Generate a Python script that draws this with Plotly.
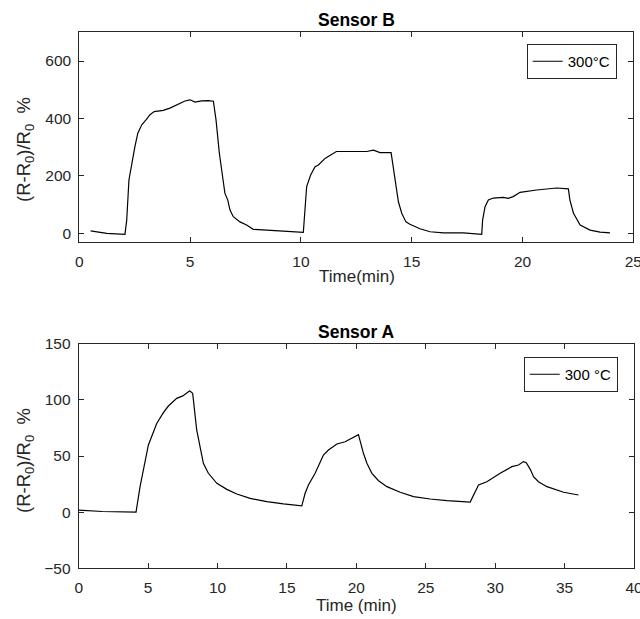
import plotly.graph_objects as go

# ---- Sensor B (top) ----
time_b = [0.51, 1.24, 2.06, 2.14, 2.24, 2.36, 2.51, 2.64, 2.82, 3.01, 3.19, 3.38, 3.79, 4.09,
          4.47, 4.77, 5.0, 5.22, 5.52, 5.82, 6.05, 6.17, 6.32, 6.47, 6.57, 6.7, 6.8, 6.95,
          7.25, 7.55, 7.85, 8.46, 9.06, 9.66, 10.04, 10.11, 10.26, 10.44, 10.64, 10.79,
          11.09, 11.3, 11.6, 12.26, 12.97, 13.27, 13.57, 14.07, 14.17, 14.29, 14.4, 14.55,
          14.74, 14.92, 15.37, 15.83, 16.43, 17.33, 17.86, 18.16, 18.2, 18.31, 18.46, 18.68,
          19.13, 19.36, 19.58, 19.89, 20.64, 21.54, 22.07, 22.14, 22.3, 22.41, 22.6, 23.05,
          23.5, 23.95]
resp_b = [9, 0, -3.5, 46, 186, 244, 302, 349, 378, 395, 413, 424, 428, 436,
          451, 461, 465, 457, 461, 462, 460, 395, 279, 186, 140, 116, 81, 58,
          40, 29, 14, 11.5, 9, 7, 3.5, 3.5, 163, 203, 232, 238,
          261, 272, 285, 285, 285, 290, 281, 281, 232, 163, 110, 70,
          40, 32, 16, 5.6, 2, 2, 0, -3.5, 46, 93, 116, 123,
          125.6, 122, 128, 143, 151, 158, 155, 116, 70, 56, 29, 11.5,
          4.5, 2]

# ---- Sensor A (bottom) ----
time_a = [0.0, 1.7, 4.13, 4.42, 5.02, 5.62, 6.1, 6.46, 7.06, 7.5, 7.9, 8.0, 8.14, 8.21,
          8.5, 8.74, 8.98, 9.34, 9.95, 10.67, 11.39, 12.35, 13.55, 14.75, 16.07,
          16.31, 16.55, 17.03, 17.63, 17.99, 18.47, 18.6, 19.19, 19.65, 20.05, 20.15,
          20.32, 20.51, 20.76, 21.12, 21.6, 22.2, 23.16, 24.12, 25.32, 26.52, 28.2,
          28.44, 28.8, 29.4, 29.88, 30.36, 31.2, 31.68, 32.04, 32.24, 32.53, 32.76,
          33.12, 33.73, 34.93, 36.0]
resp_a = [1.8, 0.6, 0, 22.7, 59.8, 79, 88.6, 94.5, 101.3, 103.5, 107.3, 108, 106.5, 105.8,
          73.2, 58.3, 43.5, 34.6, 25.7, 20.3, 16.2, 12.3, 9.3, 7.3, 5.5,
          16.8, 24.2, 34.6, 50.9, 55.3, 59.8, 60.7, 62.7, 65.5, 68.5, 69,
          61.3, 52.4, 43.5, 34.6, 28, 22.7, 17.7, 13.8, 11.7, 10.2, 9,
          15.3, 24.2, 27.1, 31, 34.6, 40.5, 42, 45, 44, 38.1, 31.6,
          27.1, 22.7, 17.7, 15.3]

title_b = "Sensor B"
title_a = "Sensor A"
xlabel_b = "Time(min)"
xlabel_a = "Time (min)"
ylabel = "(R-R<sub>0</sub>)/R<sub>0</sub>  %"
legend_b = "300°C"
legend_a = "300 °C"

W, H = 640, 619
FONT = "Liberation Sans, Arial, Helvetica, sans-serif"
AX = "#262626"

def px(x):
    return x / W

def py(y):
    return 1 - y / H

fig = go.Figure()
fig.add_trace(go.Scatter(x=time_b, y=resp_b, mode="lines", name=legend_b,
                         line=dict(color="black", width=1.2),
                         xaxis="x", yaxis="y", legend="legend"))
fig.add_trace(go.Scatter(x=time_a, y=resp_a, mode="lines", name=legend_a,
                         line=dict(color="black", width=1.2),
                         xaxis="x2", yaxis="y2", legend="legend2"))

axis_common = dict(showline=True, linecolor=AX, linewidth=1, mirror="ticks",
                   ticks="inside", ticklen=5, tickwidth=1, tickcolor=AX,
                   showgrid=False, zeroline=False, automargin=False,
                   ticklabeloverflow="allow",
                   tickfont=dict(family=FONT, size=15.5, color=AX))

fig.update_layout(
    template="none",
    width=W, height=H,
    margin=dict(l=0, r=0, t=0, b=0),
    paper_bgcolor="white", plot_bgcolor="white",
    font=dict(family=FONT, color=AX),
    xaxis=dict(domain=[px(79.3), px(633.3)], range=[0, 25], tickvals=[0, 5, 10, 15, 20, 25],
               anchor="y", ticklabelstandoff=5, **axis_common),
    yaxis=dict(domain=[py(242), py(32.3)], range=[-30, 700], tickvals=[0, 200, 400, 600],
               anchor="x", ticklabelstandoff=4, **axis_common),
    xaxis2=dict(domain=[px(78.7), px(634)], range=[0, 40],
                tickvals=[0, 5, 10, 15, 20, 25, 30, 35, 40],
                anchor="y2", ticklabelstandoff=5, **axis_common),
    yaxis2=dict(domain=[py(568.3), py(343.7)], range=[-50, 150], tickvals=[-50, 0, 50, 100, 150],
                anchor="x2", ticklabelstandoff=4, **axis_common),
    legend=dict(x=px(616.7), xanchor="right", y=py(44), yanchor="top",
                bgcolor="white", bordercolor=AX, borderwidth=1,
                font=dict(family=FONT, size=15, color="black"), itemwidth=30),
    legend2=dict(x=px(617.7), xanchor="right", y=py(357), yanchor="top",
                 bgcolor="white", bordercolor=AX, borderwidth=1,
                 font=dict(family=FONT, size=15, color="black"), itemwidth=30),
    showlegend=True,
)

ann = []
ann.append(dict(text="<b>%s</b>" % title_b, x=px(356.5), y=py(20), xref="paper", yref="paper",
                xanchor="center", yanchor="middle", showarrow=False,
                font=dict(family=FONT, size=17.5, color="black")))
ann.append(dict(text="<b>%s</b>" % title_a, x=px(356.5), y=py(332), xref="paper", yref="paper",
                xanchor="center", yanchor="middle", showarrow=False,
                font=dict(family=FONT, size=17.5, color="black")))
ann.append(dict(text=xlabel_b, x=px(356.5), y=py(277), xref="paper", yref="paper",
                xanchor="center", yanchor="middle", showarrow=False,
                font=dict(family=FONT, size=17, color=AX)))
ann.append(dict(text=xlabel_a, x=px(356.5), y=py(605), xref="paper", yref="paper",
                xanchor="center", yanchor="middle", showarrow=False,
                font=dict(family=FONT, size=17, color=AX)))
ann.append(dict(text=ylabel, x=px(25), y=py(150), xref="paper", yref="paper",
                xanchor="center", yanchor="middle", showarrow=False, textangle=-90,
                font=dict(family=FONT, size=18.5, color=AX)))
ann.append(dict(text=ylabel, x=px(25), y=py(461), xref="paper", yref="paper",
                xanchor="center", yanchor="middle", showarrow=False, textangle=-90,
                font=dict(family=FONT, size=18.5, color=AX)))
fig.update_layout(annotations=ann)

fig.write_html("out.html")
